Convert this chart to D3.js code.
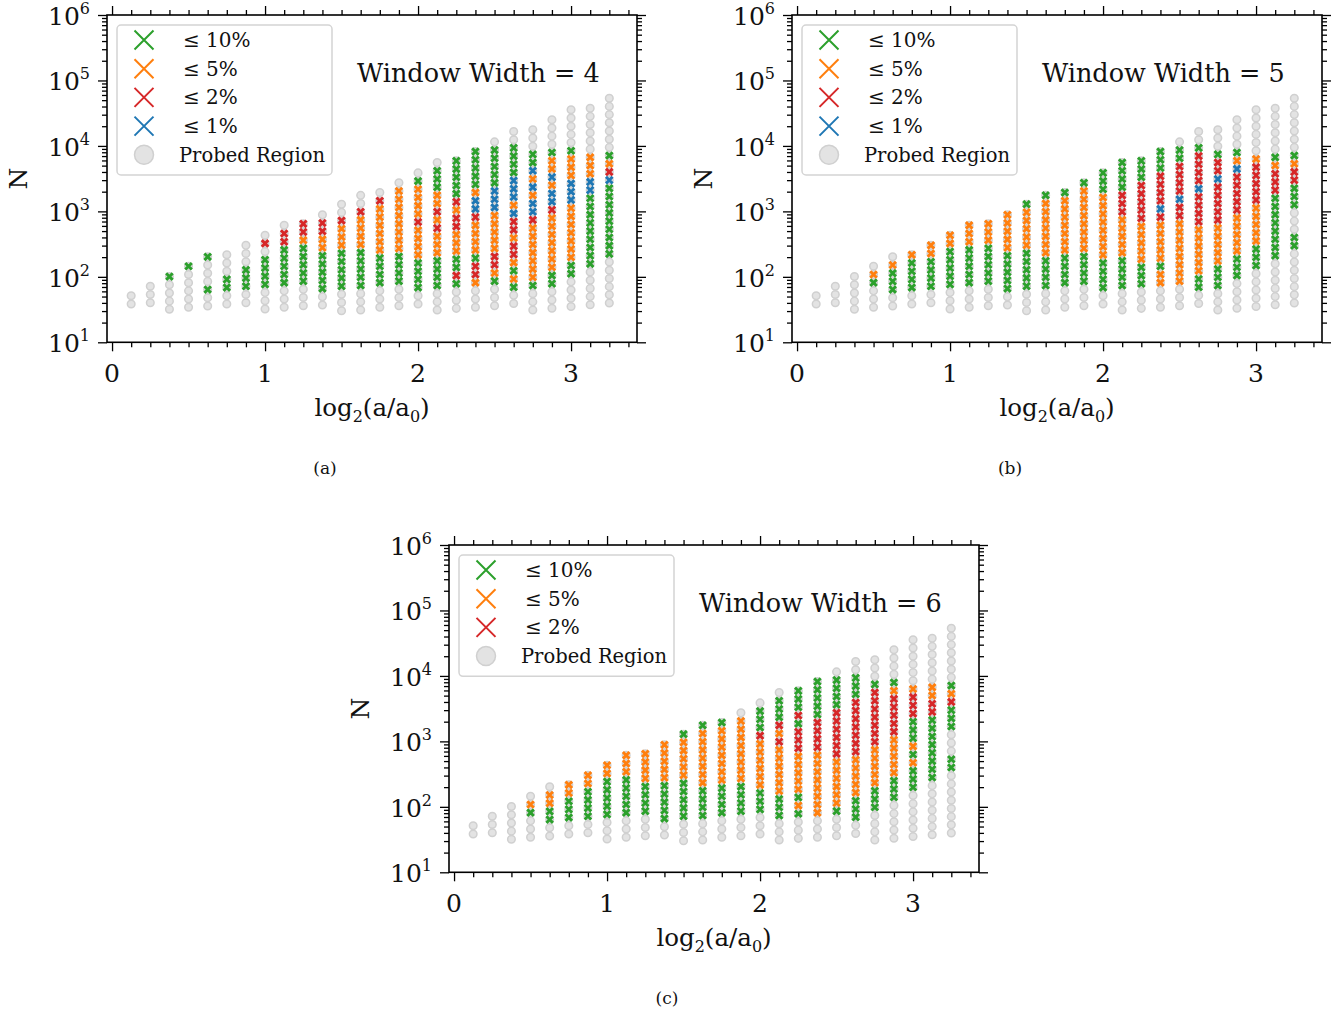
<!DOCTYPE html>
<html>
<head>
<meta charset="utf-8">
<script src="https://cdnjs.cloudflare.com/ajax/libs/d3/7.8.5/d3.min.js"></script>
<style>
    body { margin: 0; background: #fff; }
    text { font-family: "DejaVu Serif", serif; fill: #111; }
</style>
</head>
<body>
<svg id="fig" width="1340" height="1012"></svg>
<script>
// --- data ---
var COLUMN_X = [0.125, 0.25, 0.375, 0.5, 0.625, 0.75, 0.875, 1.0, 1.125, 1.25, 1.375, 1.5, 1.625,
    1.75, 1.875, 2.0, 2.125, 2.25, 2.375, 2.5, 2.625, 2.75, 2.875, 3.0, 3.125, 3.25];
// N of the lowest probed point in each column
var PROBE_LOW = [38.5, 40.3, 31.9, 34.3, 35.9, 38.5, 40.3, 32.3, 34.3, 36.2, 37.2, 30.4, 31.1,
    34.3, 36.2, 38.5, 31.1, 33.0, 34.3, 36.2, 39.1, 31.1, 33.2, 35.3, 37.4, 39.8];
var PROBE_RATIO = 1.334; // spacing between probed N values in a column
var WINDOW_WIDTHS = [4, 5, 6];
var PANEL_TAGS = ['(a)', '(b)', '(c)'];
var LEVEL_CODES = ['g', 'o', 'r', 'b'];
var LEVEL_LABELS = ['\u2264 10%', '\u2264 5%', '\u2264 2%', '\u2264 1%'];
var LEVEL_COLORS = ['#2ca02c', '#ff7f0e', '#d62728', '#1f77b4'];
var X_TICKS = [0, 1, 2, 3];
var Y_TICKS = [1e1, 1e2, 1e3, 1e4, 1e5, 1e6];
var Y_EXP = ['1', '2', '3', '4', '5', '6'];

// per column, bottom -> top, run-length: '.' probed only, g <=10%, o <=5%, r <=2%, b <=1%
var CODES_A = ['2.', '3.', '4.1g', '5.1g', '2.1g3.1g', '2.2g3.', '2.3g3.', '3.4g1.1r1.', '3.5g2r1.',
    '3.5g1o2r', '2.5g2o2r1.', '3.5g3o1r2.', '3.5g4o1r2.', '3.4g6o1r1.', '3.4g8o1.',
    '2.4g4o1r4o1g1.', '3.4g3o1r1o1r2o3g1.', '3.1g1r2g3o2r1o1r5g', '3.1o2r1g4o1r2b1o5g',
    '3.1g1o2r5o3b5g1.', '2.1g1o1g1o2r1o2r1b1o3b4g2.', '3.1g7o1r2b1o1b1o1b2g3.',
    '3.2g7o1r2b1o1b2o1g4.', '4.2g7o3b3o1g5.', '5.9g2b3o6.', '6.9g1b1r1o1g7.'];
var CODES_B = ['2.', '3.', '5.', '3.1g1o1.', '2.3g1o1.', '2.4g1o', '2.4g2o', '3.5g2o', '3.5g3o',
    '3.5g3o', '2.5g5o', '3.5g5o1g', '3.4g7o1g', '3.4g7o1g', '3.4g8o1g', '2.4g8o3g',
    '3.4g5o3r4g', '3.3g5o5r3g', '3.2o1g5o1r1b4r3g', '3.8o2r1b4r2g1.', '2.2g6o4r1b4r1g2.',
    '3.3g5o5r1b2r1g3.', '4.3g5o5r1b1o1g4.', '5.3g5o5r1o6.', '6.8g3r1o1g6.', '7.2g3.3g2r1o1g7.'];
var CODES_C = ['2.', '3.', '5.', '3.1g1o1.', '2.2g2o1.', '2.3g2o', '2.4g2o', '3.5g2o', '3.5g3o',
    '3.4g4o', '2.5g5o', '3.5g5o1g', '3.4g7o1g', '3.4g7o1g', '3.4g8o1.', '3.3g6o1r3g1.',
    '3.3g6o1r1o1r3g1.', '3.1g1o1g5o3r1g1r3g', '3.8o4r5g', '3.1g6o6r4g1.', '2.3g5o7r3g2.',
    '4.3g5o7r1g3.', '5.3g5o5r1o1g4.', '6.3g1o1g1o3g3r1o6.', '7.8g2r2o6.', '8.2g3.3g1r1o1g7.'];

(function () {
    var FRAME_W = 530, FRAME_H = 327.3;
    var X_DOMAIN = [-0.033, 3.431];

    var _panels = [
        {left: 107, top: 15, codes: CODES_A, nLevels: 4},
        {left: 792, top: 15, codes: CODES_B, nLevels: 4},
        {left: 449, top: 545, codes: CODES_C, nLevels: 3}
    ];

    var svg = d3.select('#fig');
    svg.append('rect').attr('width', 1340).attr('height', 1012).attr('fill', '#fff');

    var _parse = function (rle) {
        var out = [];
        rle.replace(/(\d+)([.gorb])/g, function (m, n, c) {
            for (var i = 0; i < +n; i++) out.push(c);
            return m;
        });
        return out;
    };

    var _xPath = function (s) {
        return 'M' + (-s) + ',' + (-s) + 'L' + s + ',' + s + 'M' + (-s) + ',' + s + 'L' + s + ',' + (-s);
    };

    var _drawPanel = function (p, idx) {
        var x = d3.scaleLinear().domain(X_DOMAIN).range([p.left, p.left + FRAME_W]);
        var y = d3.scaleLog().domain([10, 1e6]).range([p.top + FRAME_H, p.top]);
        var g = svg.append('g');

        // points
        var pts = [];
        p.codes.forEach(function (rle, k) {
            _parse(rle).forEach(function (c, j) {
                pts.push({x: COLUMN_X[k], n: PROBE_LOW[k] * Math.pow(PROBE_RATIO, j), c: c});
            });
        });
        g.append('g').selectAll('circle').data(pts).enter().append('circle')
            .attr('cx', function (d) { return x(d.x); })
            .attr('cy', function (d) { return y(d.n); })
            .attr('r', 3.8)
            .attr('fill', '#e3e3e3')
            .attr('stroke', '#d0d0d0')
            .attr('stroke-width', 1.5);
        LEVEL_CODES.forEach(function (code, li) {
            g.append('g').selectAll('path').data(pts.filter(function (d) { return d.c === code; }))
                .enter().append('path')
                .attr('transform', function (d) { return 'translate(' + x(d.x) + ',' + y(d.n) + ')'; })
                .attr('d', _xPath(3.3))
                .attr('stroke', LEVEL_COLORS[li])
                .attr('stroke-width', 2.9)
                .attr('fill', 'none');
        });

        // axes (ticks out on all sides)
        var minorX = [];
        for (var i = 1; i <= 27; i++) if (i % 8) minorX.push(i / 8);
        var minorY = [];
        Y_TICKS.slice(0, -1).forEach(function (d) {
            for (var m = 2; m < 10; m++) minorY.push(d * m);
        });
        var axes = [
            [d3.axisBottom(x).tickValues(X_TICKS).tickSize(9), 'translate(0,' + (p.top + FRAME_H) + ')'],
            [d3.axisBottom(x).tickValues(minorX).tickSize(5), 'translate(0,' + (p.top + FRAME_H) + ')'],
            [d3.axisTop(x).tickValues(X_TICKS).tickSize(9), 'translate(0,' + p.top + ')'],
            [d3.axisTop(x).tickValues(minorX).tickSize(5), 'translate(0,' + p.top + ')'],
            [d3.axisLeft(y).tickValues(Y_TICKS).tickSize(9), 'translate(' + p.left + ',0)'],
            [d3.axisLeft(y).tickValues(minorY).tickSize(5), 'translate(' + p.left + ',0)'],
            [d3.axisRight(y).tickValues(Y_TICKS).tickSize(9), 'translate(' + (p.left + FRAME_W) + ',0)'],
            [d3.axisRight(y).tickValues(minorY).tickSize(5), 'translate(' + (p.left + FRAME_W) + ',0)']
        ];
        axes.forEach(function (a) {
            var ag = g.append('g').attr('transform', a[1])
                .call(a[0].tickFormat('').tickSizeOuter(0));
            ag.select('.domain').remove();
            ag.selectAll('line').attr('stroke', '#000').attr('stroke-width', 1.3);
        });
        g.append('rect')
            .attr('x', p.left).attr('y', p.top).attr('width', FRAME_W).attr('height', FRAME_H)
            .attr('fill', 'none').attr('stroke', '#000').attr('stroke-width', 1.6);

        // tick labels
        X_TICKS.forEach(function (v) {
            g.append('text').attr('x', x(v)).attr('y', p.top + FRAME_H + 40)
                .attr('text-anchor', 'middle').attr('font-size', 25).text(v);
        });
        Y_TICKS.forEach(function (v, i) {
            var t = g.append('text').attr('x', p.left - 17).attr('y', y(v) + 10)
                .attr('text-anchor', 'end').attr('font-size', 25);
            t.append('tspan').text('10');
            t.append('tspan').attr('font-size', 16).attr('dy', -11).text(Y_EXP[i]);
        });

        // axis labels
        g.append('text')
            .attr('transform', 'translate(' + (p.left - 80) + ',' + (p.top + FRAME_H / 2) + ') rotate(-90)')
            .attr('text-anchor', 'middle').attr('font-size', 25).text('N');
        var xl = g.append('text').attr('x', p.left + FRAME_W / 2).attr('y', p.top + 401)
            .attr('text-anchor', 'middle').attr('font-size', 24.5);
        xl.append('tspan').text('log');
        xl.append('tspan').attr('font-size', 16).attr('dy', 6).text('2');
        xl.append('tspan').attr('dy', -6).text('(a/a');
        xl.append('tspan').attr('font-size', 16).attr('dy', 6).text('0');
        xl.append('tspan').attr('dy', -6).text(')');

        g.append('text').attr('x', p.left + 250).attr('y', p.top + 67)
            .attr('font-size', 25.5).text('Window Width = ' + WINDOW_WIDTHS[idx]);

        g.append('text').attr('x', p.left + 218).attr('y', p.top + 459)
            .attr('text-anchor', 'middle').attr('font-size', 17).text(PANEL_TAGS[idx]);

        // legend
        var rowH = 28.7;
        var lg = g.append('g').attr('transform', 'translate(' + (p.left + 10) + ',' + (p.top + 10) + ')');
        lg.append('rect').attr('width', 215).attr('height', 6.5 + rowH * (p.nLevels + 1))
            .attr('rx', 4).attr('fill', '#fff').attr('fill-opacity', 0.85)
            .attr('stroke', '#d4d4d4').attr('stroke-width', 1.5);
        for (var li = 0; li < p.nLevels; li++) {
            var ry = 15 + rowH * li;
            lg.append('path').attr('transform', 'translate(27,' + ry + ')').attr('d', _xPath(9.5))
                .attr('stroke', LEVEL_COLORS[li]).attr('stroke-width', 2).attr('fill', 'none');
            lg.append('text').attr('x', 66).attr('y', ry + 7).attr('font-size', 20).text(LEVEL_LABELS[li]);
        }
        var py = 15 + rowH * p.nLevels;
        lg.append('circle').attr('cx', 27).attr('cy', py).attr('r', 9.5)
            .attr('fill', '#e3e3e3').attr('stroke', '#d0d0d0').attr('stroke-width', 1.5);
        lg.append('text').attr('x', 62).attr('y', py + 7).attr('font-size', 19.5).text('Probed Region');
    };

    _panels.forEach(_drawPanel);
})();
</script>
</body>
</html>
